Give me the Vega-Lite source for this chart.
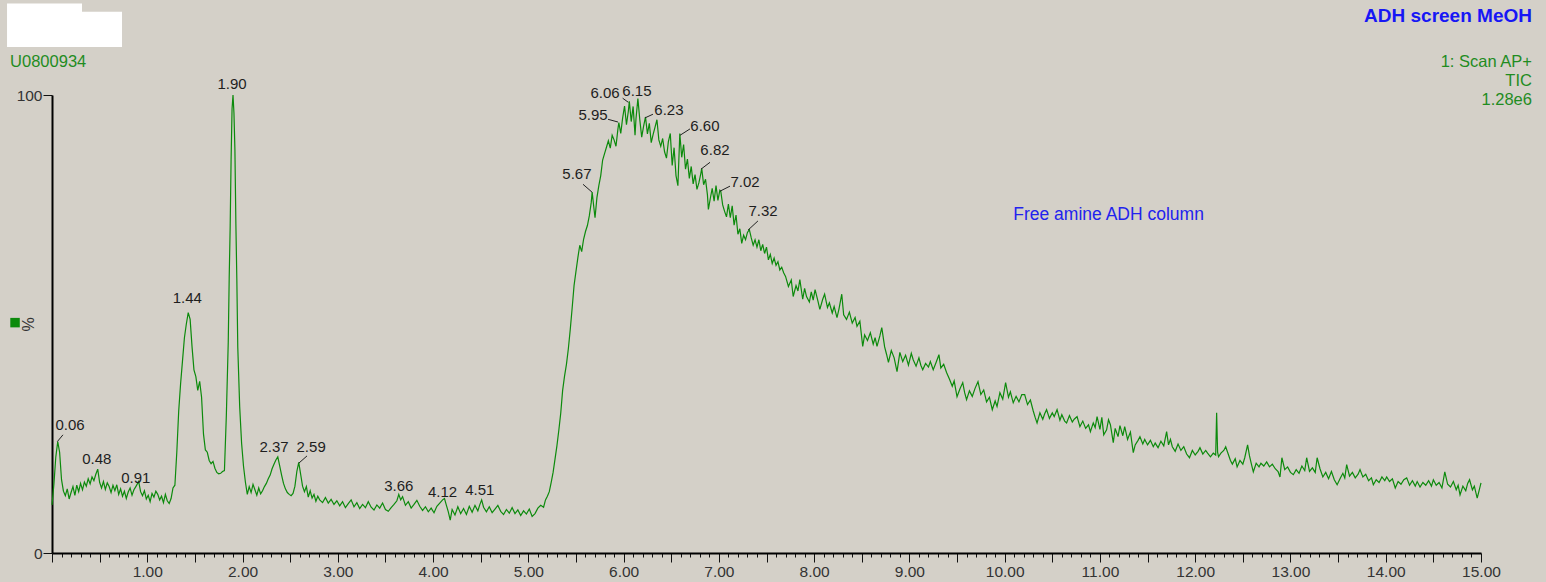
{
"$schema": "https://vega.github.io/schema/vega-lite/v6.json",
"width": 1429, "height": 458,
"autosize": {"type": "none"},
"padding": {"left": 52, "top": 95, "right": 65, "bottom": 29},
"background": "#d4d0c8",
"config": {"view": {"stroke": null}},
"datasets": {
"trace": [
{"t":0.00,"v":10.5},{"t":0.02,"v":15},{"t":0.04,"v":21},{"t":0.06,"v":24.3},{"t":0.08,"v":22},{"t":0.10,"v":16},{"t":0.12,"v":13.5},{"t":0.14,"v":12.5},{"t":0.16,"v":14},{"t":0.18,"v":11.8},{"t":0.20,"v":13.2},{"t":0.22,"v":14.5},{"t":0.24,"v":12.6},{"t":0.26,"v":14.8},{"t":0.28,"v":13.4},{"t":0.30,"v":15.2},{"t":0.32,"v":13.8},{"t":0.34,"v":15.5},{"t":0.36,"v":14.6},{"t":0.38,"v":16.2},{"t":0.40,"v":15.1},{"t":0.42,"v":16.6},{"t":0.44,"v":15.8},{"t":0.46,"v":17.2},{"t":0.48,"v":18.3},{"t":0.50,"v":15.4},{"t":0.52,"v":14.2},{"t":0.54,"v":15.6},{"t":0.56,"v":13.9},{"t":0.58,"v":15.3},{"t":0.60,"v":14.5},{"t":0.62,"v":13.2},{"t":0.64,"v":14.8},{"t":0.66,"v":13.6},{"t":0.68,"v":14.9},{"t":0.70,"v":12.8},{"t":0.72,"v":14.0},{"t":0.74,"v":12.4},{"t":0.76,"v":13.5},{"t":0.78,"v":11.9},{"t":0.80,"v":13.3},{"t":0.82,"v":14.2},{"t":0.84,"v":12.6},{"t":0.86,"v":13.8},{"t":0.88,"v":14.5},{"t":0.91,"v":15.6},{"t":0.93,"v":13.4},{"t":0.95,"v":12.5},{"t":0.97,"v":13.6},{"t":0.99,"v":11.8},{"t":1.01,"v":12.6},{"t":1.03,"v":11.2},{"t":1.05,"v":13.0},{"t":1.07,"v":12.2},{"t":1.09,"v":13.5},{"t":1.11,"v":12.8},{"t":1.13,"v":11.6},{"t":1.15,"v":12.4},{"t":1.17,"v":11.0},{"t":1.19,"v":12.8},{"t":1.21,"v":11.4},{"t":1.23,"v":10.8},{"t":1.25,"v":11.9},{"t":1.27,"v":14.2},{"t":1.29,"v":14.8},{"t":1.31,"v":22},{"t":1.33,"v":31},{"t":1.35,"v":37},{"t":1.37,"v":42},{"t":1.39,"v":47},{"t":1.41,"v":50},{"t":1.43,"v":52.5},{"t":1.45,"v":51},{"t":1.47,"v":45},{"t":1.49,"v":40},{"t":1.51,"v":38.5},{"t":1.53,"v":35.5},{"t":1.55,"v":37.5},{"t":1.57,"v":34},{"t":1.59,"v":26},{"t":1.61,"v":22.5},{"t":1.63,"v":22},{"t":1.65,"v":20.2},{"t":1.67,"v":19.5},{"t":1.69,"v":20},{"t":1.71,"v":18.5},{"t":1.73,"v":17.6},{"t":1.75,"v":17.3},{"t":1.77,"v":17.4},{"t":1.79,"v":17.8},{"t":1.81,"v":18},{"t":1.83,"v":30},{"t":1.85,"v":46},{"t":1.86,"v":60},{"t":1.87,"v":71},{"t":1.88,"v":86},{"t":1.89,"v":97},{"t":1.90,"v":100},{"t":1.91,"v":96},{"t":1.92,"v":88},{"t":1.93,"v":72},{"t":1.94,"v":60},{"t":1.95,"v":45},{"t":1.97,"v":32},{"t":1.99,"v":24},{"t":2.01,"v":19},{"t":2.03,"v":15.5},{"t":2.05,"v":12.8},{"t":2.07,"v":14.5},{"t":2.09,"v":13.2},{"t":2.11,"v":15.0},{"t":2.13,"v":13.8},{"t":2.15,"v":12.6},{"t":2.17,"v":14.2},{"t":2.19,"v":12.9},{"t":2.21,"v":13.6},{"t":2.23,"v":14.5},{"t":2.25,"v":15.2},{"t":2.27,"v":16.2},{"t":2.29,"v":17},{"t":2.31,"v":18.4},{"t":2.33,"v":19.4},{"t":2.35,"v":20.3},{"t":2.37,"v":21},{"t":2.39,"v":19},{"t":2.41,"v":17.0},{"t":2.43,"v":15.2},{"t":2.45,"v":14.0},{"t":2.47,"v":13.2},{"t":2.49,"v":12.8},{"t":2.51,"v":12.5},{"t":2.53,"v":13.0},{"t":2.55,"v":14.6},{"t":2.57,"v":17.8},{"t":2.59,"v":19.8},{"t":2.61,"v":17.2},{"t":2.63,"v":14.6},{"t":2.65,"v":13.4},{"t":2.67,"v":14.5},{"t":2.69,"v":12.2},{"t":2.71,"v":13.6},{"t":2.73,"v":12.0},{"t":2.75,"v":12.8},{"t":2.77,"v":11.3},{"t":2.79,"v":12.4},{"t":2.81,"v":11.6},{"t":2.84,"v":11.0},{"t":2.87,"v":12.1},{"t":2.90,"v":10.9},{"t":2.93,"v":11.7},{"t":2.96,"v":10.6},{"t":2.99,"v":11.4},{"t":3.02,"v":10.3},{"t":3.05,"v":11.2},{"t":3.08,"v":9.9},{"t":3.11,"v":10.8},{"t":3.14,"v":11.6},{"t":3.17,"v":10.1},{"t":3.20,"v":11.0},{"t":3.23,"v":9.7},{"t":3.26,"v":10.6},{"t":3.29,"v":9.9},{"t":3.32,"v":11.2},{"t":3.35,"v":10.0},{"t":3.38,"v":9.4},{"t":3.41,"v":10.5},{"t":3.44,"v":9.8},{"t":3.47,"v":10.9},{"t":3.50,"v":9.5},{"t":3.53,"v":9.1},{"t":3.56,"v":9.9},{"t":3.59,"v":10.6},{"t":3.62,"v":11.4},{"t":3.64,"v":12.8},{"t":3.66,"v":11.6},{"t":3.68,"v":12.3},{"t":3.71,"v":10.4},{"t":3.74,"v":11.2},{"t":3.77,"v":9.8},{"t":3.80,"v":10.6},{"t":3.83,"v":11.5},{"t":3.86,"v":10.2},{"t":3.89,"v":9.3},{"t":3.92,"v":10.1},{"t":3.95,"v":9.0},{"t":3.98,"v":9.8},{"t":4.01,"v":8.8},{"t":4.04,"v":10.2},{"t":4.07,"v":10.9},{"t":4.10,"v":11.6},{"t":4.12,"v":11.9},{"t":4.14,"v":10.4},{"t":4.16,"v":9.0},{"t":4.18,"v":7.2},{"t":4.20,"v":9.5},{"t":4.23,"v":8.3},{"t":4.26,"v":10.1},{"t":4.29,"v":8.6},{"t":4.32,"v":9.7},{"t":4.35,"v":8.4},{"t":4.38,"v":10.2},{"t":4.41,"v":8.9},{"t":4.44,"v":10.4},{"t":4.47,"v":9.2},{"t":4.49,"v":10.5},{"t":4.51,"v":11.6},{"t":4.53,"v":10.0},{"t":4.56,"v":9.0},{"t":4.59,"v":10.1},{"t":4.62,"v":8.8},{"t":4.65,"v":9.6},{"t":4.68,"v":10.4},{"t":4.71,"v":9.1},{"t":4.74,"v":8.4},{"t":4.77,"v":9.5},{"t":4.80,"v":8.7},{"t":4.83,"v":9.9},{"t":4.86,"v":8.6},{"t":4.89,"v":9.4},{"t":4.92,"v":8.2},{"t":4.95,"v":9.2},{"t":4.98,"v":8.5},{"t":5.01,"v":9.6},{"t":5.04,"v":8.0},{"t":5.07,"v":8.6},{"t":5.10,"v":9.8},{"t":5.13,"v":10.4},{"t":5.16,"v":10.0},{"t":5.18,"v":11.6},{"t":5.20,"v":12.4},{"t":5.22,"v":13.4},{"t":5.24,"v":15.4},{"t":5.26,"v":17.6},{"t":5.28,"v":20.5},{"t":5.30,"v":23.4},{"t":5.32,"v":26.8},{"t":5.34,"v":30.5},{"t":5.36,"v":35.5},{"t":5.38,"v":38.6},{"t":5.40,"v":41.2},{"t":5.42,"v":44.6},{"t":5.44,"v":48.8},{"t":5.46,"v":53.5},{"t":5.48,"v":58.4},{"t":5.50,"v":61.5},{"t":5.52,"v":64.5},{"t":5.54,"v":67.2},{"t":5.56,"v":65.8},{"t":5.58,"v":68.5},{"t":5.60,"v":70.2},{"t":5.62,"v":71.5},{"t":5.64,"v":73.6},{"t":5.66,"v":76.5},{"t":5.67,"v":78.8},{"t":5.69,"v":75.0},{"t":5.70,"v":73.2},{"t":5.72,"v":77.6},{"t":5.74,"v":80.2},{"t":5.76,"v":82.4},{"t":5.78,"v":85.8},{"t":5.80,"v":87.2},{"t":5.82,"v":88.6},{"t":5.84,"v":90.0},{"t":5.86,"v":88.4},{"t":5.88,"v":91.2},{"t":5.90,"v":90.2},{"t":5.92,"v":88.8},{"t":5.94,"v":92.5},{"t":5.95,"v":94.0},{"t":5.97,"v":91.6},{"t":5.99,"v":95.0},{"t":6.01,"v":97.6},{"t":6.03,"v":93.5},{"t":6.05,"v":96.5},{"t":6.06,"v":98.6},{"t":6.08,"v":94.2},{"t":6.10,"v":97.5},{"t":6.12,"v":91.2},{"t":6.13,"v":94.8},{"t":6.15,"v":99.2},{"t":6.17,"v":94.6},{"t":6.19,"v":90.8},{"t":6.21,"v":93.2},{"t":6.23,"v":95.2},{"t":6.25,"v":91.5},{"t":6.27,"v":93.8},{"t":6.29,"v":89.6},{"t":6.31,"v":91.4},{"t":6.33,"v":93.0},{"t":6.35,"v":94.6},{"t":6.37,"v":90.2},{"t":6.39,"v":88.8},{"t":6.41,"v":90.5},{"t":6.43,"v":87.6},{"t":6.45,"v":86.2},{"t":6.47,"v":89.8},{"t":6.49,"v":91.6},{"t":6.51,"v":84.6},{"t":6.53,"v":88.5},{"t":6.55,"v":82.4},{"t":6.57,"v":80.2},{"t":6.59,"v":91.6},{"t":6.61,"v":86.4},{"t":6.63,"v":89.2},{"t":6.65,"v":83.8},{"t":6.67,"v":86.0},{"t":6.69,"v":81.8},{"t":6.71,"v":84.4},{"t":6.73,"v":80.6},{"t":6.75,"v":82.6},{"t":6.77,"v":79.4},{"t":6.79,"v":80.8},{"t":6.81,"v":82.8},{"t":6.82,"v":84.0},{"t":6.84,"v":80.4},{"t":6.86,"v":81.6},{"t":6.88,"v":78.2},{"t":6.89,"v":75.0},{"t":6.91,"v":77.4},{"t":6.93,"v":79.6},{"t":6.95,"v":76.8},{"t":6.97,"v":80.2},{"t":6.99,"v":77.0},{"t":7.01,"v":79.2},{"t":7.02,"v":79.0},{"t":7.04,"v":76.0},{"t":7.06,"v":74.6},{"t":7.08,"v":73.4},{"t":7.10,"v":76.2},{"t":7.12,"v":73.2},{"t":7.14,"v":75.8},{"t":7.16,"v":71.6},{"t":7.18,"v":73.8},{"t":7.20,"v":69.6},{"t":7.22,"v":70.8},{"t":7.24,"v":67.6},{"t":7.26,"v":69.4},{"t":7.28,"v":68.4},{"t":7.30,"v":70.0},{"t":7.32,"v":70.6},{"t":7.34,"v":68.8},{"t":7.36,"v":67.2},{"t":7.38,"v":68.4},{"t":7.40,"v":66.8},{"t":7.42,"v":68.4},{"t":7.44,"v":66.0},{"t":7.46,"v":67.4},{"t":7.48,"v":65.4},{"t":7.50,"v":66.8},{"t":7.52,"v":64.0},{"t":7.54,"v":65.2},{"t":7.56,"v":63.2},{"t":7.58,"v":64.4},{"t":7.60,"v":62.8},{"t":7.62,"v":63.6},{"t":7.64,"v":61.8},{"t":7.66,"v":62.4},{"t":7.68,"v":61.2},
{"t":7.70,"v":60.4},{"t":7.73,"v":58.2},{"t":7.76,"v":59.6},{"t":7.78,"v":56.0},{"t":7.81,"v":58.4},{"t":7.83,"v":57.2},{"t":7.85,"v":59.7},{"t":7.88,"v":55.4},{"t":7.90,"v":57.8},{"t":7.92,"v":56.0},{"t":7.95,"v":54.8},{"t":7.97,"v":57.0},{"t":7.99,"v":55.2},{"t":8.01,"v":57.5},{"t":8.04,"v":55.0},{"t":8.06,"v":53.2},{"t":8.09,"v":55.4},{"t":8.11,"v":56.5},{"t":8.14,"v":53.6},{"t":8.16,"v":54.6},{"t":8.19,"v":52.4},{"t":8.21,"v":53.8},{"t":8.24,"v":51.4},{"t":8.26,"v":53.2},{"t":8.29,"v":56.5},{"t":8.31,"v":52.0},{"t":8.34,"v":51.0},{"t":8.37,"v":52.6},{"t":8.40,"v":50.2},{"t":8.43,"v":51.4},{"t":8.45,"v":49.5},{"t":8.48,"v":50.6},{"t":8.51,"v":45.1},{"t":8.53,"v":47.6},{"t":8.56,"v":46.4},{"t":8.59,"v":48.1},{"t":8.62,"v":45.6},{"t":8.64,"v":47.0},{"t":8.66,"v":45.1},{"t":8.69,"v":47.4},{"t":8.71,"v":49.2},{"t":8.74,"v":45.0},{"t":8.76,"v":43.4},{"t":8.78,"v":41.6},{"t":8.81,"v":44.2},{"t":8.84,"v":42.6},{"t":8.87,"v":39.6},{"t":8.90,"v":43.8},{"t":8.93,"v":41.8},{"t":8.96,"v":43.2},{"t":8.99,"v":41.0},{"t":9.02,"v":43.6},{"t":9.04,"v":42.2},{"t":9.07,"v":40.8},{"t":9.10,"v":42.6},{"t":9.12,"v":41.0},{"t":9.14,"v":40.0},{"t":9.17,"v":41.4},{"t":9.20,"v":40.6},{"t":9.22,"v":41.8},{"t":9.25,"v":40.0},{"t":9.28,"v":41.6},{"t":9.31,"v":43.3},{"t":9.33,"v":40.4},{"t":9.36,"v":41.2},{"t":9.39,"v":39.4},{"t":9.42,"v":38.0},{"t":9.45,"v":36.4},{"t":9.47,"v":37.6},{"t":9.50,"v":34.1},{"t":9.53,"v":35.8},{"t":9.56,"v":37.2},{"t":9.58,"v":35.0},{"t":9.60,"v":33.5},{"t":9.63,"v":35.4},{"t":9.66,"v":34.2},{"t":9.69,"v":36.0},{"t":9.72,"v":37.4},{"t":9.75,"v":34.6},{"t":9.78,"v":35.6},{"t":9.81,"v":33.0},{"t":9.84,"v":34.0},{"t":9.87,"v":31.3},{"t":9.90,"v":33.2},{"t":9.92,"v":32.0},{"t":9.95,"v":35.0},{"t":9.98,"v":33.6},{"t":10.01,"v":37.2},{"t":10.04,"v":34.0},{"t":10.06,"v":35.2},{"t":10.09,"v":32.8},{"t":10.12,"v":34.2},{"t":10.15,"v":33.0},{"t":10.18,"v":34.6},{"t":10.21,"v":34.6},{"t":10.24,"v":32.4},{"t":10.27,"v":33.4},{"t":10.30,"v":31.0},{"t":10.32,"v":29.6},{"t":10.34,"v":28.4},{"t":10.37,"v":30.6},{"t":10.40,"v":29.2},{"t":10.42,"v":30.4},{"t":10.44,"v":31.3},{"t":10.47,"v":29.4},{"t":10.50,"v":30.6},{"t":10.52,"v":29.8},{"t":10.55,"v":31.3},{"t":10.58,"v":29.0},{"t":10.60,"v":30.2},{"t":10.63,"v":28.8},{"t":10.65,"v":28.4},{"t":10.68,"v":30.0},{"t":10.71,"v":28.6},{"t":10.73,"v":29.2},{"t":10.76,"v":29.8},{"t":10.79,"v":27.6},{"t":10.82,"v":28.8},{"t":10.85,"v":27.2},{"t":10.88,"v":28.0},{"t":10.90,"v":26.5},{"t":10.93,"v":28.4},{"t":10.95,"v":27.4},{"t":10.97,"v":29.8},{"t":11.00,"v":27.0},{"t":11.02,"v":29.6},{"t":11.04,"v":25.8},{"t":11.07,"v":26.9},{"t":11.09,"v":29.1},{"t":11.11,"v":28.0},{"t":11.14,"v":24.1},{"t":11.16,"v":27.2},{"t":11.19,"v":25.4},{"t":11.21,"v":27.8},{"t":11.24,"v":25.6},{"t":11.26,"v":27.6},{"t":11.29,"v":24.8},{"t":11.32,"v":26.4},{"t":11.35,"v":21.9},{"t":11.37,"v":23.6},{"t":11.40,"v":24.6},{"t":11.42,"v":25.4},{"t":11.45,"v":23.8},{"t":11.47,"v":24.8},{"t":11.50,"v":23.6},{"t":11.53,"v":24.6},{"t":11.56,"v":23.2},{"t":11.58,"v":24.0},{"t":11.61,"v":23.0},{"t":11.64,"v":24.4},{"t":11.67,"v":23.4},{"t":11.70,"v":26.5},{"t":11.72,"v":23.6},{"t":11.74,"v":24.8},{"t":11.76,"v":23.2},{"t":11.79,"v":22.2},{"t":11.82,"v":23.8},{"t":11.85,"v":22.4},{"t":11.88,"v":23.2},{"t":11.91,"v":21.6},{"t":11.94,"v":20.8},{"t":11.97,"v":22.4},{"t":12.00,"v":21.4},{"t":12.03,"v":22.2},{"t":12.05,"v":23.0},{"t":12.08,"v":21.6},{"t":12.11,"v":22.4},{"t":12.13,"v":21.8},{"t":12.16,"v":21.0},{"t":12.19,"v":21.8},{"t":12.215,"v":21.4},{"t":12.225,"v":30.6},{"t":12.235,"v":22.0},{"t":12.245,"v":21.0},{"t":12.27,"v":21.8},{"t":12.30,"v":22.4},{"t":12.32,"v":23.2},{"t":12.34,"v":22.0},{"t":12.37,"v":20.2},{"t":12.39,"v":19.4},{"t":12.42,"v":20.6},{"t":12.44,"v":18.8},{"t":12.47,"v":20.2},{"t":12.50,"v":19.4},{"t":12.52,"v":20.8},{"t":12.55,"v":23.6},{"t":12.57,"v":21.2},{"t":12.59,"v":19.4},{"t":12.61,"v":17.7},{"t":12.64,"v":19.6},{"t":12.67,"v":18.8},{"t":12.69,"v":19.6},{"t":12.72,"v":19.0},{"t":12.75,"v":19.9},{"t":12.78,"v":18.8},{"t":12.81,"v":19.4},{"t":12.84,"v":18.4},{"t":12.87,"v":17.8},{"t":12.89,"v":16.6},{"t":12.91,"v":20.8},{"t":12.94,"v":18.2},{"t":12.97,"v":18.8},{"t":13.00,"v":17.6},{"t":13.03,"v":17.1},{"t":13.06,"v":18.2},{"t":13.09,"v":17.4},{"t":13.12,"v":19.0},{"t":13.15,"v":18.0},{"t":13.17,"v":20.8},{"t":13.20,"v":17.8},{"t":13.23,"v":18.6},{"t":13.26,"v":17.6},{"t":13.28,"v":20.8},{"t":13.31,"v":18.4},{"t":13.34,"v":16.6},{"t":13.37,"v":17.6},{"t":13.40,"v":16.2},{"t":13.43,"v":17.8},{"t":13.46,"v":16.0},{"t":13.49,"v":14.9},{"t":13.52,"v":16.2},{"t":13.55,"v":17.4},{"t":13.57,"v":16.4},{"t":13.59,"v":19.3},{"t":13.62,"v":16.8},{"t":13.65,"v":17.6},{"t":13.68,"v":16.4},{"t":13.71,"v":17.2},{"t":13.73,"v":18.2},{"t":13.76,"v":16.6},{"t":13.79,"v":17.2},{"t":13.82,"v":15.8},{"t":13.85,"v":16.4},{"t":13.87,"v":14.9},{"t":13.90,"v":16.0},{"t":13.93,"v":15.4},{"t":13.96,"v":16.6},{"t":13.99,"v":15.8},{"t":14.01,"v":16.6},{"t":14.04,"v":15.6},{"t":14.07,"v":16.2},{"t":14.10,"v":14.2},{"t":14.13,"v":15.6},{"t":14.16,"v":15.0},{"t":14.19,"v":16.0},{"t":14.22,"v":16.4},{"t":14.25,"v":14.8},{"t":14.28,"v":15.8},{"t":14.31,"v":14.6},{"t":14.33,"v":15.6},{"t":14.36,"v":14.4},{"t":14.39,"v":15.4},{"t":14.42,"v":14.8},{"t":14.45,"v":15.8},{"t":14.48,"v":14.6},{"t":14.50,"v":16.0},{"t":14.53,"v":14.8},{"t":14.56,"v":15.4},{"t":14.59,"v":14.2},{"t":14.62,"v":17.7},{"t":14.65,"v":15.0},{"t":14.68,"v":14.4},{"t":14.71,"v":15.6},{"t":14.74,"v":13.8},{"t":14.76,"v":14.8},{"t":14.78,"v":12.7},{"t":14.81,"v":14.6},{"t":14.84,"v":13.6},{"t":14.86,"v":15.2},{"t":14.88,"v":16.0},{"t":14.91,"v":13.8},{"t":14.93,"v":14.6},{"t":14.96,"v":12.0},{"t":14.98,"v":13.6},{"t":15.00,"v":15.3}
],
"peaks": [
{"label":"0.06","lx":0.19,"ly":28.0,"x1":0.115,"y1":25.8,"x2":0.055,"y2":24.3},
{"label":"0.48","lx":0.47,"ly":20.6},
{"label":"0.91","lx":0.88,"ly":16.4},
{"label":"1.44","lx":1.42,"ly":55.6},
{"label":"1.90","lx":1.89,"ly":102.4},
{"label":"2.37","lx":2.33,"ly":23.2},
{"label":"2.59","lx":2.72,"ly":23.2,"x1":2.677,"y1":21.2,"x2":2.59,"y2":19.6},
{"label":"3.66","lx":3.64,"ly":14.6},
{"label":"4.12","lx":4.10,"ly":13.3},
{"label":"4.51","lx":4.49,"ly":13.8},
{"label":"5.67","lx":5.51,"ly":82.7,"x1":5.574,"y1":80.5,"x2":5.668,"y2":78.8},
{"label":"5.95","lx":5.68,"ly":95.6,"x1":5.836,"y1":94.7,"x2":5.941,"y2":94.1},
{"label":"6.06","lx":5.805,"ly":100.4,"x1":5.99,"y1":99.3,"x2":6.05,"y2":98.4},
{"label":"6.15","lx":6.14,"ly":100.9},
{"label":"6.23","lx":6.476,"ly":96.7,"x1":6.308,"y1":95.8,"x2":6.224,"y2":95.0},
{"label":"6.60","lx":6.854,"ly":93.2,"x1":6.697,"y1":92.6,"x2":6.592,"y2":91.2},
{"label":"6.82","lx":6.959,"ly":87.9,"x1":6.907,"y1":85.3,"x2":6.812,"y2":83.8},
{"label":"7.02","lx":7.274,"ly":80.9,"x1":7.117,"y1":80.1,"x2":7.012,"y2":79.0},
{"label":"7.32","lx":7.463,"ly":74.6,"x1":7.41,"y1":72.5,"x2":7.306,"y2":70.5}
],
"greenLeft": [{"x":-0.44,"y":107.2,"text":"U0800934"}],
"greenRight": [{"x":15.535,"y":107.2,"text":"1: Scan AP+"},{"x":15.535,"y":103.1,"text":"TIC"},{"x":15.535,"y":98.9,"text":"1.28e6"}],
"titleNote": [{"x":15.535,"y":117.3,"text":"ADH screen MeOH"}],
"blueNote": [{"x":10.09,"y":73.7,"text":"Free amine ADH column"}],
"square": [{"x":-0.388,"y":50.3}],
"redact": [{"x":-0.472,"x2":0.735,"y":118.2,"y2":110.5},{"x":-0.472,"x2":0.315,"y":120.0,"y2":118.0}]
},
"layer": [
{
"data": {"name": "redact"},
"mark": {"type": "rect", "fill": "#ffffff", "clip": false},
"encoding": {
"x": {"field": "x", "type": "quantitative"},
"x2": {"field": "x2"},
"y": {"field": "y", "type": "quantitative"},
"y2": {"field": "y2"}
}
},
{
"data": {"name": "trace"},
"mark": {"type": "line", "color": "#0c8a0c", "strokeWidth": 1.2, "clip": false},
"encoding": {
"x": {"field": "t", "type": "quantitative",
"scale": {"domain": [0, 15], "nice": false, "zero": false},
"axis": {"title": null, "tickCount": 150, "grid": false,
"labelExpr": "(abs(datum.value - round(datum.value)) < 0.001 && datum.value > 0.5) ? format(datum.value, '.2f') : ''",
"labelOverlap": false, "labelFlush": false,
"labelFont": "Liberation Sans", "labelFontSize": 15.5, "labelColor": "#333333", "labelPadding": 2,
"domainColor": "#000000", "domainWidth": 2,
"tickColor": "#111111", "tickWidth": 1,
"tickSize": {"condition": {"test": "abs(datum.value*2 - round(datum.value*2)) < 0.001", "value": 9}, "value": 4}
}},
"y": {"field": "v", "type": "quantitative",
"scale": {"domain": [0, 100], "nice": false, "zero": false},
"axis": {"title": "%", "tickCount": 10, "grid": false,
"labelExpr": "(datum.value == 0 || datum.value == 100) ? datum.label : ''",
"labelOverlap": false, "labelFlush": false,
"labelFont": "Liberation Sans", "labelFontSize": 15.5, "labelColor": "#333333", "labelPadding": 1,
"domainColor": "#000000", "domainWidth": 2,
"tickColor": "#111111", "tickWidth": 1,
"tickSize": {"condition": {"test": "datum.value == 0 || datum.value == 100", "value": 9}, "value": {"expr": "datum.value == 50 ? 7 : 4"}},
"titleFont": "Liberation Sans", "titleFontSize": 16, "titleFontWeight": "normal", "titleColor": "#333333",
"titleAngle": 270, "titleX": -24, "titleY": 229, "titleAlign": "center", "titleBaseline": "middle"
}}
}
},
{
"data": {"name": "peaks"},
"transform": [{"filter": "isValid(datum.x1)"}],
"mark": {"type": "rule", "color": "#222222", "strokeWidth": 1},
"encoding": {
"x": {"field": "x1", "type": "quantitative"},
"y": {"field": "y1", "type": "quantitative"},
"x2": {"field": "x2"},
"y2": {"field": "y2"}
}
},
{
"data": {"name": "peaks"},
"mark": {"type": "text", "font": "Liberation Sans", "fontSize": 15, "color": "#1e1e1e", "align": "center", "baseline": "middle", "clip": false},
"encoding": {
"x": {"field": "lx", "type": "quantitative"},
"y": {"field": "ly", "type": "quantitative"},
"text": {"field": "label"}
}
},
{
"data": {"name": "greenLeft"},
"mark": {"type": "text", "font": "Liberation Sans", "fontSize": 16.5, "color": "#1f8c1f", "align": "left", "baseline": "middle", "clip": false},
"encoding": {
"x": {"field": "x", "type": "quantitative"},
"y": {"field": "y", "type": "quantitative"},
"text": {"field": "text"}
}
},
{
"data": {"name": "greenRight"},
"mark": {"type": "text", "font": "Liberation Sans", "fontSize": 16.5, "color": "#1f8c1f", "align": "right", "baseline": "middle", "clip": false},
"encoding": {
"x": {"field": "x", "type": "quantitative"},
"y": {"field": "y", "type": "quantitative"},
"text": {"field": "text"}
}
},
{
"data": {"name": "titleNote"},
"mark": {"type": "text", "font": "Liberation Sans", "fontSize": 19, "fontWeight": "bold", "color": "#1717f5", "align": "right", "baseline": "middle", "clip": false},
"encoding": {
"x": {"field": "x", "type": "quantitative"},
"y": {"field": "y", "type": "quantitative"},
"text": {"field": "text"}
}
},
{
"data": {"name": "blueNote"},
"mark": {"type": "text", "font": "Liberation Sans", "fontSize": 17.5, "color": "#2222ee", "align": "left", "baseline": "middle", "clip": false},
"encoding": {
"x": {"field": "x", "type": "quantitative"},
"y": {"field": "y", "type": "quantitative"},
"text": {"field": "text"}
}
},
{
"data": {"name": "square"},
"mark": {"type": "point", "shape": "square", "filled": true, "size": 90, "color": "#0c8a0c", "opacity": 1, "clip": false},
"encoding": {
"x": {"field": "x", "type": "quantitative"},
"y": {"field": "y", "type": "quantitative"}
}
}
]
}
